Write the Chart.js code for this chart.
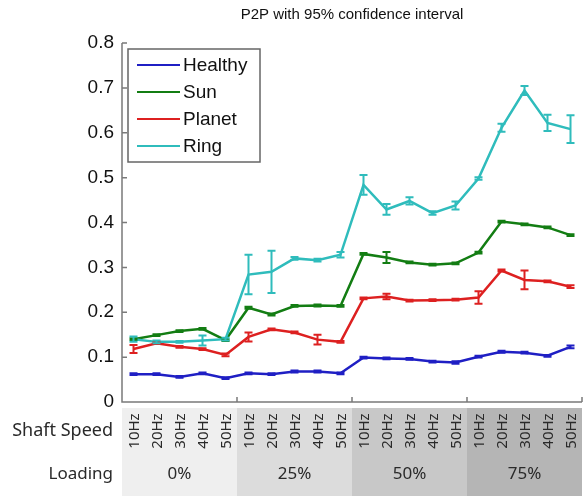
<!DOCTYPE html>
<html>
<head>
<meta charset="utf-8">
<script src="https://cdn.jsdelivr.net/npm/chart.js@4/dist/chart.umd.min.js"></script>
<style>
  html, body { margin: 0; padding: 0; background: #ffffff; }
  #wrap { width: 583px; height: 496px; }
</style>
</head>
<body>
<div id="wrap"><canvas id="c" width="583" height="496"></canvas></div>
<script>
// Shaft speeds repeat within each loading level
const speeds = ['10Hz', '20Hz', '30Hz', '40Hz', '50Hz'];
const loadings = ['0%', '25%', '50%', '75%'];
const yTicks = [0, 0.1, 0.2, 0.3, 0.4, 0.5, 0.6, 0.7, 0.8];

// Mean P2P per condition
const healthy = [0.062, 0.062, 0.056, 0.064, 0.053, 0.064, 0.062, 0.068, 0.068, 0.064,
                 0.099, 0.097, 0.096, 0.090, 0.088, 0.101, 0.112, 0.110, 0.103, 0.123];
const sun     = [0.140, 0.149, 0.158, 0.163, 0.138, 0.210, 0.195, 0.214, 0.215, 0.214,
                 0.330, 0.322, 0.311, 0.306, 0.309, 0.333, 0.402, 0.396, 0.389, 0.372];
const planet  = [0.118, 0.131, 0.123, 0.118, 0.105, 0.145, 0.162, 0.155, 0.139, 0.134,
                 0.231, 0.235, 0.226, 0.227, 0.228, 0.233, 0.293, 0.272, 0.269, 0.257];
const ring    = [0.140, 0.134, 0.134, 0.137, 0.140, 0.284, 0.290, 0.320, 0.316, 0.328,
                 0.484, 0.429, 0.448, 0.421, 0.438, 0.498, 0.611, 0.694, 0.622, 0.608];

// Half-width of the 95% confidence interval
const healthyCI = [0.002, 0.002, 0.002, 0.002, 0.002, 0.002, 0.002, 0.002, 0.002, 0.002,
                   0.002, 0.002, 0.002, 0.002, 0.003, 0.002, 0.002, 0.002, 0.002, 0.003];
const sunCI     = [0.002, 0.002, 0.002, 0.002, 0.002, 0.002, 0.002, 0.002, 0.002, 0.002,
                   0.002, 0.012, 0.002, 0.002, 0.002, 0.002, 0.002, 0.002, 0.002, 0.002];
const planetCI  = [0.009, 0.002, 0.002, 0.002, 0.003, 0.010, 0.002, 0.002, 0.011, 0.002,
                   0.002, 0.006, 0.002, 0.002, 0.002, 0.014, 0.002, 0.021, 0.002, 0.003];
const ringCI    = [0.006, 0.003, 0.002, 0.011, 0.003, 0.044, 0.047, 0.003, 0.003, 0.006,
                   0.022, 0.012, 0.008, 0.004, 0.009, 0.003, 0.009, 0.010, 0.018, 0.031];

const categories = [];
loadings.forEach(l => speeds.forEach(s => categories.push(l + ' ' + s)));

const colors = {
  healthy: '#1f1fc4',
  sun: '#137d13',
  planet: '#dd2020',
  ring: '#2fbcbc'
};

const series = [
  { label: 'Healthy', data: healthy, ci: healthyCI, color: colors.healthy, order: 3 },
  { label: 'Sun',     data: sun,     ci: sunCI,     color: colors.sun,     order: 2 },
  { label: 'Planet',  data: planet,  ci: planetCI,  color: colors.planet,  order: 1 },
  { label: 'Ring',    data: ring,    ci: ringCI,    color: colors.ring,    order: 0 }
];

const AXIS = '#7a7a7a';
const SANS = '"Liberation Sans", Arial, sans-serif';
const TABLE_FONT = '"Noto Sans", "Open Sans", sans-serif';

const decorations = {
  id: 'decorations',
  beforeDraw(chart) {
    const ctx = chart.ctx;
    ctx.save();
    ctx.fillStyle = '#ffffff';
    ctx.fillRect(0, 0, chart.width, chart.height);
    ctx.restore();
  },
  afterDatasetsDraw(chart) {
    // confidence-interval whiskers
    const ctx = chart.ctx;
    const xs = chart.scales.x, ys = chart.scales.y;
    ctx.save();
    series.forEach(s => {
      ctx.strokeStyle = s.color;
      ctx.lineWidth = 2;
      s.data.forEach((v, i) => {
        const x = xs.getPixelForValue(i);
        const yt = ys.getPixelForValue(v + s.ci[i]);
        const yb = ys.getPixelForValue(v - s.ci[i]);
        ctx.beginPath();
        ctx.moveTo(x, yt); ctx.lineTo(x, yb);
        ctx.moveTo(x - 4, yt); ctx.lineTo(x + 4, yt);
        ctx.moveTo(x - 4, yb); ctx.lineTo(x + 4, yb);
        ctx.stroke();
      });
    });
    ctx.restore();
  },
  afterDraw(chart) {
    const ctx = chart.ctx;
    const a = chart.chartArea;
    const xs = chart.scales.x, ys = chart.scales.y;
    const step = xs.getPixelForValue(1) - xs.getPixelForValue(0);
    ctx.save();

    // axes with inward ticks
    ctx.strokeStyle = AXIS;
    ctx.lineWidth = 1.5;
    ctx.beginPath();
    ctx.moveTo(a.left, a.top); ctx.lineTo(a.left, a.bottom); ctx.lineTo(a.right, a.bottom);
    yTicks.forEach(v => {
      const y = ys.getPixelForValue(v);
      ctx.moveTo(a.left, y); ctx.lineTo(a.left + 5, y);
    });
    loadings.forEach((l, g) => {
      const x = xs.getPixelForValue(g * 5 + 4) + step / 2;
      ctx.moveTo(x, a.bottom); ctx.lineTo(x, a.bottom - 5);
    });
    ctx.stroke();

    // title
    ctx.fillStyle = '#111111';
    ctx.font = '15px ' + SANS;
    ctx.textAlign = 'center';
    ctx.textBaseline = 'middle';
    ctx.fillText('P2P with 95% confidence interval', (a.left + a.right) / 2, 15);

    // legend
    const lx = a.left + 6, ly = a.top + 6, lw = 132, lh = 113;
    ctx.fillStyle = '#ffffff';
    ctx.fillRect(lx, ly, lw, lh);
    ctx.strokeStyle = '#666666';
    ctx.lineWidth = 1.5;
    ctx.strokeRect(lx, ly, lw, lh);
    ctx.font = '19px ' + SANS;
    ctx.textAlign = 'left';
    series.forEach((s, i) => {
      const y = ly + 16 + i * 27;
      ctx.strokeStyle = s.color;
      ctx.lineWidth = 2;
      ctx.beginPath();
      ctx.moveTo(lx + 9, y); ctx.lineTo(lx + 52, y);
      ctx.stroke();
      ctx.fillStyle = '#111111';
      ctx.fillText(s.label, lx + 55, y + 1);
    });

    // condition table under the axis
    const shades = ['#efefef', '#dcdcdc', '#c8c8c8', '#b5b5b5'];
    const tTop = a.bottom + 6, tBot = chart.height;
    loadings.forEach((l, g) => {
      const x0 = xs.getPixelForValue(g * 5) - step / 2;
      const x1 = xs.getPixelForValue(g * 5 + 4) + step / 2;
      ctx.fillStyle = shades[g];
      ctx.fillRect(x0, tTop, x1 - x0, tBot - tTop);
      ctx.fillStyle = '#2a2a2a';
      ctx.font = '17px ' + TABLE_FONT;
      ctx.textAlign = 'center';
      ctx.textBaseline = 'middle';
      ctx.fillText(l, (x0 + x1) / 2, 474);
    });
    ctx.font = '15px ' + TABLE_FONT;
    ctx.fillStyle = '#2a2a2a';
    categories.forEach((c, i) => {
      const x = xs.getPixelForValue(i);
      ctx.save();
      ctx.translate(x, 431);
      ctx.rotate(-Math.PI / 2);
      ctx.textAlign = 'center';
      ctx.textBaseline = 'middle';
      ctx.fillText(speeds[i % 5], 0, 1);
      ctx.restore();
    });
    ctx.textAlign = 'right';
    ctx.textBaseline = 'middle';
    ctx.font = '18px ' + TABLE_FONT;
    ctx.fillText('Shaft Speed', a.left - 9, 431);
    ctx.font = '17px ' + TABLE_FONT;
    ctx.fillText('Loading', a.left - 9, 474);

    ctx.restore();
  }
};

new Chart(document.getElementById('c'), {
  type: 'line',
  data: {
    labels: categories,
    datasets: series.map(s => ({
      label: s.label,
      data: s.data,
      borderColor: s.color,
      backgroundColor: s.color,
      borderWidth: 2.5,
      pointRadius: 0,
      tension: 0,
      order: s.order
    }))
  },
  options: {
    responsive: false,
    animation: false,
    layout: { padding: { top: 43, right: 1, left: 0, bottom: 0 } },
    plugins: { legend: { display: false }, tooltip: { enabled: false }, title: { display: false } },
    scales: {
      x: {
        type: 'category',
        offset: true,
        grid: { display: false },
        border: { display: false },
        ticks: { display: false },
        afterFit(scale) { scale.height = 94; }
      },
      y: {
        min: 0,
        max: 0.8,
        grid: { display: false },
        border: { display: false },
        ticks: {
          stepSize: 0.1,
          padding: 0,
          color: '#111111',
          font: { family: SANS, size: 19 },
          callback: v => (Math.abs(v) < 1e-9 ? '0' : Number(v).toFixed(1))
        },
        afterFit(scale) { scale.width = 122; }
      }
    }
  },
  plugins: [decorations]
});
</script>
</body>
</html>
